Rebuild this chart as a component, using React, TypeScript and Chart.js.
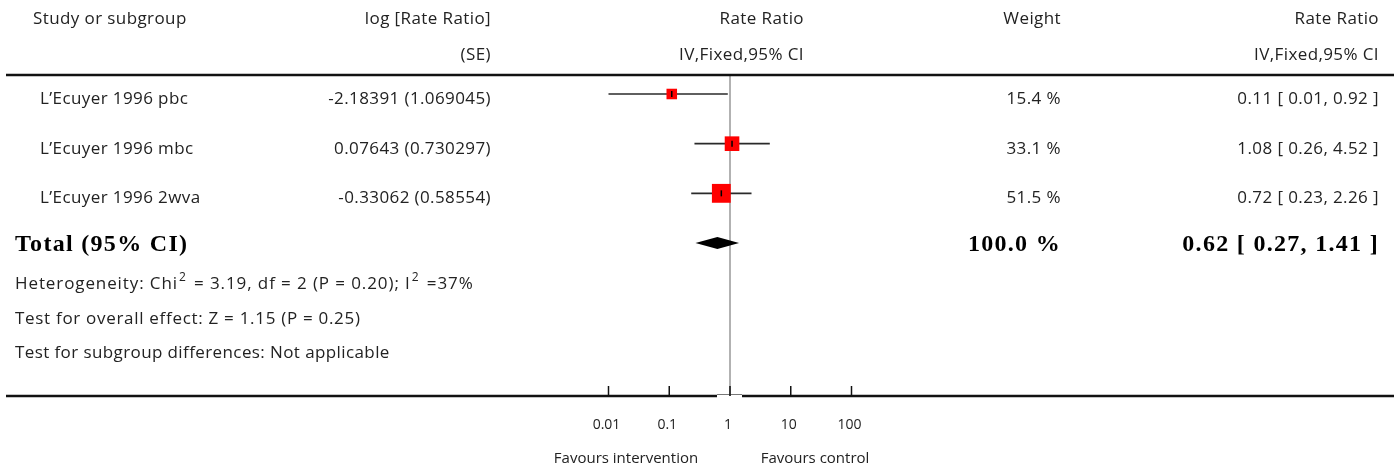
import React, { useEffect, useRef } from "react";
import { Chart, registerables } from "chart.js";

Chart.register(...registerables);

// ---------- data ----------
const studies = ["L\u2019Ecuyer 1996 pbc", "L\u2019Ecuyer 1996 mbc", "L\u2019Ecuyer 1996 2wva"];
const logRateSE = ["-2.18391 (1.069045)", "0.07643 (0.730297)", "-0.33062 (0.58554)"];
const rateRatio = [0.11, 1.08, 0.72];
const ciLow = [0.01, 0.26, 0.23];
const ciHigh = [0.92, 4.52, 2.26];
const weights = [15.4, 33.1, 51.5];
const weightLabels = ["15.4 %", "33.1 %", "51.5 %"];
const ciLabels = ["0.11 [ 0.01, 0.92 ]", "1.08 [ 0.26, 4.52 ]", "0.72 [ 0.23, 2.26 ]"];

const totalLabel = "Total (95% CI)";
const totalRR = 0.62;
const totalLow = 0.27;
const totalHigh = 1.41;
const totalWeightLabel = "100.0 %";
const totalCiLabel = "0.62 [ 0.27, 1.41 ]";

const tickValues = [0.01, 0.1, 1, 10, 100];
const tickLabels = ["0.01", "0.1", "1", "10", "100"];
const favoursLeft = "Favours intervention";
const favoursRight = "Favours control";

// ---------- layout ----------
const W = 1398;
const H = 473;
const X_ONE = 730; // pixel of rate ratio 1
const DECADE = 60.75; // px per decade
const ROW0 = 94;
const ROW_STEP = 49.67;

const SANS = "'Open Sans', Lato, sans-serif";
const SERIF = "'Liberation Serif', 'DejaVu Serif', serif";
const TEXT = "#222";

type Part = { t: string; sup?: boolean };

function drawRich(ctx: CanvasRenderingContext2D, parts: Part[], x: number, y: number, size: number) {
  let cx = x;
  for (const p of parts) {
    if (p.sup) {
      ctx.font = `${Math.round(size * 0.68)}px ${SANS}`;
      ctx.fillText(p.t, cx + 1, y - size * 0.36);
      cx += ctx.measureText(p.t).width + 3;
    } else {
      ctx.font = `${size}px ${SANS}`;
      ctx.fillText(p.t, cx, y);
      cx += ctx.measureText(p.t).width;
    }
  }
}

const forestPlugin = {
  id: "forestDecor",
  beforeDatasetsDraw(chart: any) {
    const ctx: CanvasRenderingContext2D = chart.ctx;
    const xs = chart.scales.x;
    const x1 = xs.getPixelForValue(1);
    ctx.save();
    ctx.strokeStyle = "#999";
    ctx.lineWidth = 1.5;
    ctx.beginPath();
    ctx.moveTo(x1, 75);
    ctx.lineTo(x1, 396);
    ctx.stroke();
    ctx.restore();
  },
  afterDatasetsDraw(chart: any) {
    const ctx: CanvasRenderingContext2D = chart.ctx;
    const xs = chart.scales.x;
    const ys = chart.scales.y;
    ctx.save();

    // horizontal rules
    ctx.strokeStyle = "#111";
    ctx.lineWidth = 2.5;
    ctx.beginPath();
    ctx.moveTo(6, 75);
    ctx.lineTo(1394, 75);
    ctx.stroke();

    const x1 = xs.getPixelForValue(1);
    ctx.beginPath();
    ctx.moveTo(6, 396);
    ctx.lineTo(x1 - 13, 396);
    ctx.moveTo(x1 + 12, 396);
    ctx.lineTo(1394, 396);
    ctx.stroke();
    ctx.lineWidth = 1;
    ctx.strokeStyle = "#777";
    ctx.beginPath();
    ctx.moveTo(x1 - 13, 394.5);
    ctx.lineTo(x1 + 12, 394.5);
    ctx.stroke();

    // axis ticks
    ctx.strokeStyle = "#111";
    ctx.lineWidth = 1.5;
    tickValues.forEach((v) => {
      const px = xs.getPixelForValue(v);
      ctx.beginPath();
      ctx.moveTo(px, 386);
      ctx.lineTo(px, 396);
      ctx.stroke();
    });

    // diamond
    const yT = ys.getPixelForValue(studies.length);
    ctx.fillStyle = "#000";
    ctx.beginPath();
    ctx.moveTo(xs.getPixelForValue(totalLow), yT);
    ctx.lineTo(xs.getPixelForValue(totalRR), yT - 6);
    ctx.lineTo(xs.getPixelForValue(totalHigh), yT);
    ctx.lineTo(xs.getPixelForValue(totalRR), yT + 6);
    ctx.closePath();
    ctx.fill();

    // text
    const c: any = ctx;
    ctx.fillStyle = TEXT;
    ctx.textBaseline = "middle";
    ctx.font = `17px ${SANS}`;
    c.letterSpacing = "0.4px";
    ctx.textAlign = "left";
    ctx.fillText("Study or subgroup", 33, 19);
    ctx.textAlign = "right";
    ctx.fillText("log [Rate Ratio]", 491, 19);
    ctx.fillText("(SE)", 491, 55);
    ctx.fillText("Rate Ratio", 804, 19);
    ctx.fillText("IV,Fixed,95% CI", 804, 55);
    ctx.fillText("Weight", 1061, 19);
    ctx.fillText("Rate Ratio", 1379, 19);
    ctx.fillText("IV,Fixed,95% CI", 1379, 55);

    studies.forEach((s, i) => {
      const y = ys.getPixelForValue(i) + 5;
      ctx.textAlign = "left";
      ctx.fillText(s, 40, y);
      ctx.textAlign = "right";
      ctx.fillText(logRateSE[i], 491, y);
      ctx.fillText(weightLabels[i], 1061, y);
      ctx.fillText(ciLabels[i], 1379, y);
    });

    // total row
    const yTot = yT + 2;
    ctx.font = `bold 24px ${SERIF}`;
    c.letterSpacing = "1.3px";
    ctx.fillStyle = "#000";
    ctx.textAlign = "left";
    ctx.fillText(totalLabel, 15, yTot);
    ctx.textAlign = "right";
    ctx.fillText(totalWeightLabel, 1061, yTot);
    ctx.fillText(totalCiLabel, 1379, yTot);

    // footnotes
    ctx.fillStyle = TEXT;
    ctx.textAlign = "left";
    c.letterSpacing = "0.9px";
    drawRich(
      ctx,
      [
        { t: "Heterogeneity: Chi" },
        { t: "2", sup: true },
        { t: " = 3.19, df = 2 (P = 0.20); I" },
        { t: "2", sup: true },
        { t: " =37%" },
      ],
      15,
      284,
      17
    );
    ctx.font = `17px ${SANS}`;
    c.letterSpacing = "0.7px";
    ctx.fillText("Test for overall effect: Z = 1.15 (P = 0.25)", 15, 319);
    c.letterSpacing = "0.4px";
    ctx.fillText("Test for subgroup differences: Not applicable", 15, 353);

    // tick labels
    c.letterSpacing = "0px";
    ctx.textAlign = "center";
    ctx.font = `14px ${SANS}`;
    tickValues.forEach((v, i) => {
      ctx.fillText(tickLabels[i], xs.getPixelForValue(v) - 2, 425);
    });
    ctx.font = `15px ${SANS}`;
    ctx.fillText(favoursLeft, x1 - 104, 459);
    ctx.fillText(favoursRight, x1 + 85, 459);

    ctx.restore();
  },
};

export default function App() {
  const ref = useRef<HTMLCanvasElement | null>(null);

  useEffect(() => {
    document.body.style.margin = "0";
    if (!ref.current) return;
    const rows = studies.map((_, i) => i);
    const boxSide = (w: number) => 7 + 0.23 * w;

    const ciDatasets = studies.map((s, i) => ({
      label: s + " CI",
      type: "line" as const,
      data: [
        { x: ciLow[i], y: rows[i] },
        { x: ciHigh[i], y: rows[i] },
      ],
      borderColor: "#2a2a2a",
      borderWidth: 1.6,
      pointRadius: 0,
      showLine: true,
      fill: false,
    }));

    const chart = new Chart(ref.current, {
      type: "scatter",
      data: {
        datasets: [
          {
            label: "estimate tick",
            data: rateRatio.map((v, i) => ({ x: v, y: rows[i] })),
            pointStyle: "line",
            rotation: 90,
            pointRadius: 3,
            borderColor: "#000",
            borderWidth: 1.5,
          },
          {
            label: "estimate",
            data: rateRatio.map((v, i) => ({ x: v, y: rows[i] })),
            pointStyle: "rect",
            pointRadius: weights.map((w) => boxSide(w) / Math.SQRT2),
            backgroundColor: "#ff0000",
            borderColor: "#ff0000",
            borderWidth: 0,
          },
          ...ciDatasets,
        ] as any,
      },
      options: {
        animation: false,
        responsive: false,
        maintainAspectRatio: false,
        layout: { padding: 0, autoPadding: false },
        plugins: {
          legend: { display: false },
          tooltip: { enabled: false },
          title: { display: false },
        },
        scales: {
          x: {
            type: "logarithmic",
            display: false,
            bounds: "data",
            min: Math.pow(10, -X_ONE / DECADE),
            max: Math.pow(10, (W - X_ONE) / DECADE),
          },
          y: {
            type: "linear",
            display: false,
            bounds: "data",
            reverse: true,
            min: -ROW0 / ROW_STEP,
            max: (H - ROW0) / ROW_STEP,
          },
        },
      },
      plugins: [forestPlugin],
    });
    return () => chart.destroy();
  }, []);

  return (
    <div style={{ width: W, height: H, background: "#fff" }}>
      <canvas ref={ref} width={W} height={H} style={{ width: W, height: H, display: "block" }} />
    </div>
  );
}
